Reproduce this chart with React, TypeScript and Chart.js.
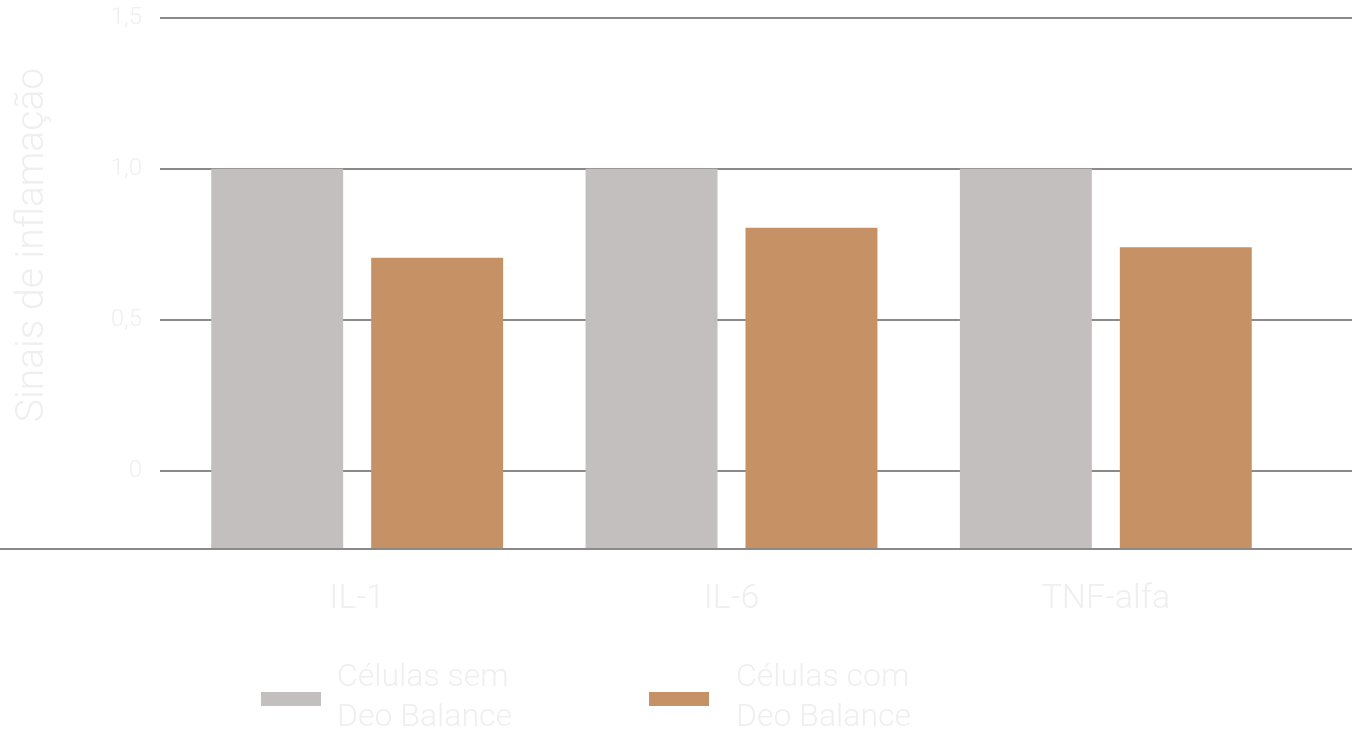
import React, { useEffect, useRef } from 'react';
import { Chart, registerables } from 'chart.js';

Chart.register(...registerables);

// dados
const CATEGORIAS = ['IL-1', 'IL-6', 'TNF-alfa'];
const SERIES = ['Células sem\nDeo Balance', 'Células com\nDeo Balance'];
const SEM_DEO = [1.0, 1.0, 1.0];
const COM_DEO = [0.705, 0.805, 0.74];
const Y_TICKS = [0, 0.5, 1.0, 1.5];
const Y_MIN = -0.26;
const Y_MAX = 1.5;
const Y_TITLE = 'Sinais de inflamação';

const CORES = ['#c2bfbe', '#c69265'];
const TEXTO = '#efefef';
const LINHA = '#8c8a88';
const FONTE = 'Roboto, "Open Sans", sans-serif';

const fmt = (v: number) => (v === 0 ? '0' : v.toFixed(1).replace('.', ','));

// linhas de grade estendidas + linha de base + título do eixo
const linhasPlugin = {
  id: 'linhas',
  beforeDatasetsDraw(chart: any) {
    const { ctx, scales, width } = chart;
    const y = scales.y;
    ctx.save();
    ctx.strokeStyle = LINHA;
    ctx.lineWidth = 2;
    Y_TICKS.forEach((v) => {
      const py = Math.round(y.getPixelForValue(v));
      ctx.beginPath();
      ctx.moveTo(160, py);
      ctx.lineTo(width, py);
      ctx.stroke();
    });
    // título do eixo y
    ctx.fillStyle = TEXTO;
    ctx.font = `300 39px ${FONTE}`;
    ctx.textAlign = 'center';
    ctx.textBaseline = 'middle';
    ctx.translate(33, 245);
    ctx.rotate(-Math.PI / 2);
    ctx.fillText(Y_TITLE, 0, 0);
    ctx.restore();
  },
  afterDatasetsDraw(chart: any) {
    const { ctx, chartArea, width } = chart;
    ctx.save();
    ctx.strokeStyle = LINHA;
    ctx.lineWidth = 2;
    ctx.beginPath();
    ctx.moveTo(0, chartArea.bottom);
    ctx.lineTo(width, chartArea.bottom);
    ctx.stroke();
    ctx.restore();
  },
};

const App: React.FC = () => {
  const canvasRef = useRef<HTMLCanvasElement>(null);

  useEffect(() => {
    document.body.style.margin = '0';
    if (!canvasRef.current) return;

    const chart = new Chart(canvasRef.current, {
      type: 'bar',
      data: {
        labels: CATEGORIAS,
        datasets: [
          {
            label: SERIES[0],
            data: SEM_DEO,
            backgroundColor: CORES[0],
            base: Y_MIN,
            categoryPercentage: 0.8545,
            barPercentage: 0.825,
          },
          {
            label: SERIES[1],
            data: COM_DEO,
            backgroundColor: CORES[1],
            base: Y_MIN,
            categoryPercentage: 0.8545,
            barPercentage: 0.825,
          },
        ],
      },
      options: {
        animation: false,
        responsive: false,
        devicePixelRatio: 1,
        layout: { padding: { top: 18, right: 59, left: 0, bottom: 0 } },
        plugins: { legend: { display: false }, tooltip: { enabled: false } },
        scales: {
          x: {
            grid: { display: false, drawTicks: false },
            border: { display: false },
            ticks: {
              color: TEXTO,
              padding: 30,
              font: { family: FONTE, size: 34, weight: '300' },
            },
            afterFit: (scale: any) => {
              scale.height = 736 - 549;
            },
          },
          y: {
            min: Y_MIN,
            max: Y_MAX,
            grid: { display: false, drawTicks: false },
            border: { display: false },
            afterBuildTicks: (scale: any) => {
              scale.ticks = Y_TICKS.map((v) => ({ value: v }));
            },
            ticks: {
              color: TEXTO,
              padding: 28,
              font: { family: FONTE, size: 24, weight: '300' },
              callback: (v: any) => fmt(Number(v)),
            },
            afterFit: (scale: any) => {
              scale.width = 170;
              scale.paddingTop = 0;
              scale.paddingBottom = 0;
            },
          },
        },
      },
      plugins: [linhasPlugin],
    });

    return () => chart.destroy();
  }, []);

  return (
    <div style={{ position: 'relative', width: 1352, height: 736, overflow: 'hidden', background: '#ffffff', fontFamily: FONTE }}>
      <canvas ref={canvasRef} width={1352} height={736} style={{ display: 'block' }} />
      <div style={{ position: 'absolute', left: 261, top: 655, display: 'flex' }}>
        {SERIES.map((s, i) => (
          <div key={s} style={{ width: 388, display: 'flex', alignItems: 'center' }}>
            <div style={{ width: 60, height: 14, background: CORES[i], marginRight: i === 0 ? 16 : 27, marginTop: 8, flexShrink: 0 }} />
            <div style={{ color: TEXTO, fontSize: 32, fontWeight: 300, lineHeight: '40px', whiteSpace: 'pre-line' }}>{s}</div>
          </div>
        ))}
      </div>
    </div>
  );
};

export default App;
